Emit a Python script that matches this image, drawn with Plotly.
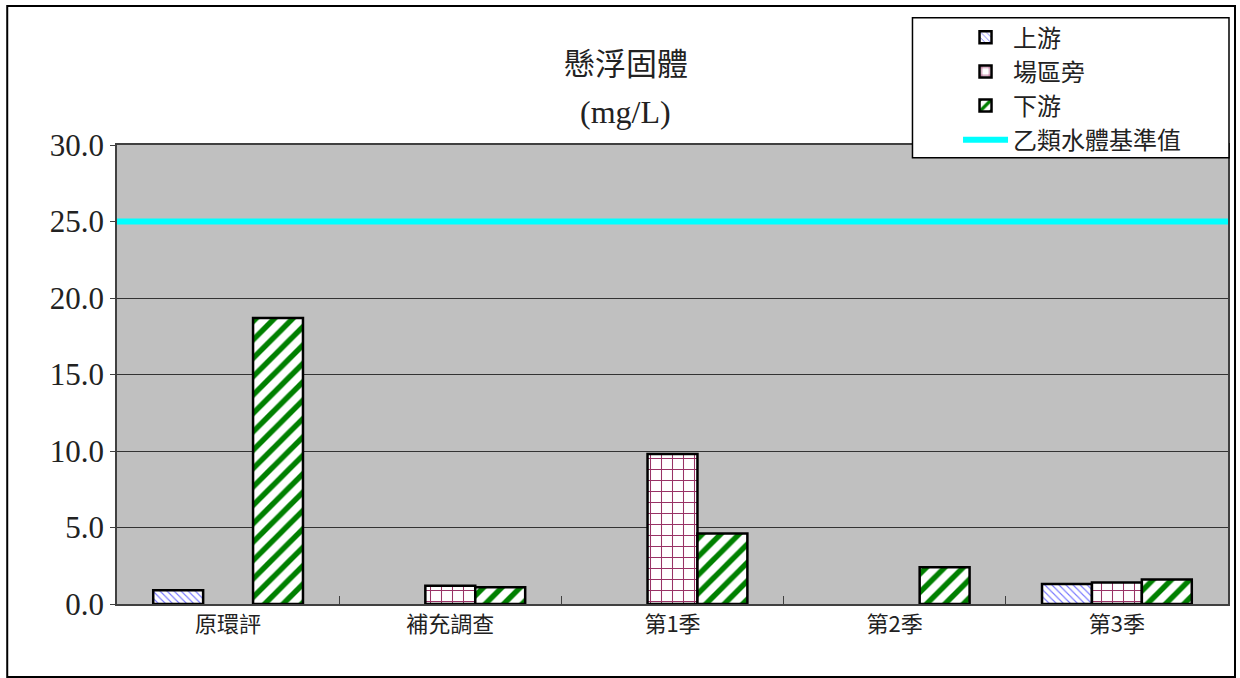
import plotly.graph_objects as go

categories = ["原環評", "補充調查", "第1季", "第2季", "第3季"]
upstream = [0.9, None, None, None, 1.3]
site_side = [None, 1.2, 9.8, None, 1.4]
downstream = [18.7, 1.1, 4.6, 2.4, 1.6]
standard_value = 25.0
y_ticks = [0, 5, 10, 15, 20, 25, 30]

serif = "Liberation Serif, Times New Roman, serif"
cjk = "Noto Sans CJK TC, sans-serif"

fig = go.Figure()

fig.add_trace(go.Bar(
    x=categories, y=upstream, name="上游",
    marker=dict(color="white", line=dict(color="black", width=2.5),
                pattern=dict(shape="\\", fgcolor="#7777FF", bgcolor="white", size=5,
                             solidity=0.22, fgopacity=1, fillmode="replace")),
))
fig.add_trace(go.Bar(
    x=categories, y=site_side, name="場區旁",
    marker=dict(color="white", line=dict(color="black", width=2.5),
                pattern=dict(shape="+", fgcolor="#993366", bgcolor="white", size=11,
                             solidity=0.18, fgopacity=1, fillmode="replace")),
))
fig.add_trace(go.Bar(
    x=categories, y=downstream, name="下游",
    marker=dict(color="white", line=dict(color="black", width=2.5),
                pattern=dict(shape="/", fgcolor="#008000", bgcolor="white", size=13,
                             solidity=0.42, fgopacity=1, fillmode="replace")),
))
fig.add_trace(go.Scatter(
    x=list(range(len(categories))), y=[standard_value] * len(categories),
    name="乙類水體基準值", mode="lines", xaxis="x2",
    line=dict(color="#00FFFF", width=6),
))

fig.update_layout(
    width=1240, height=678,
    margin=dict(l=117, r=10, t=145, b=74),
    paper_bgcolor="white",
    plot_bgcolor="#C0C0C0",
    barmode="group",
    bargap=0.326,
    bargroupgap=0,
    showlegend=True,
    legend=dict(
        x=0.757, y=1.283, xanchor="left", yanchor="top",
        bgcolor="rgba(0,0,0,0)", borderwidth=0,
        font=dict(family=cjk, size=24, color="#222"),
        tracegroupgap=0, itemwidth=45,
    ),
    xaxis=dict(
        type="category",
        tickfont=dict(family=cjk, size=22, color="#222"),
        showline=True, linecolor="#404040", linewidth=1.5, mirror=True,
        ticks="inside", tickson="boundaries", ticklen=8, tickcolor="#404040",
        showgrid=False,
    ),
    xaxis2=dict(
        overlaying="x", range=[0, len(categories) - 1], visible=False,
    ),
    yaxis=dict(
        range=[0, 30], tickvals=y_ticks,
        ticktext=[f"{v:.1f}" for v in y_ticks],
        tickfont=dict(family=serif, size=31, color="#222"),
        showline=True, linecolor="#404040", linewidth=1.5, mirror=True,
        ticks="outside", ticklen=5, tickcolor="#404040",
        showgrid=True, gridcolor="#333333", gridwidth=1,
        zeroline=False,
    ),
    annotations=[
        dict(text="懸浮固體", x=0.458, y=1.181, xref="paper", yref="paper",
             xanchor="center", yanchor="middle",
             showarrow=False, font=dict(family=cjk, size=31, color="#222")),
        dict(text="(mg/L)", x=0.458, y=1.072, xref="paper", yref="paper",
             xanchor="center", yanchor="middle",
             showarrow=False, font=dict(family=serif, size=32, color="#222")),
    ],
    shapes=[
        dict(type="rect", xref="paper", yref="paper",
             x0=-0.0988, x1=1.0063, y0=-0.159, y1=1.303,
             line=dict(color="black", width=2), fillcolor="rgba(0,0,0,0)", layer="below"),
        dict(type="rect", xref="paper", yref="paper",
             x0=0.716, x1=1.0009, y0=0.972, y1=1.277,
             line=dict(color="black", width=1.5), fillcolor="white", layer="above"),
    ],
)

fig.write_html("out.html")
